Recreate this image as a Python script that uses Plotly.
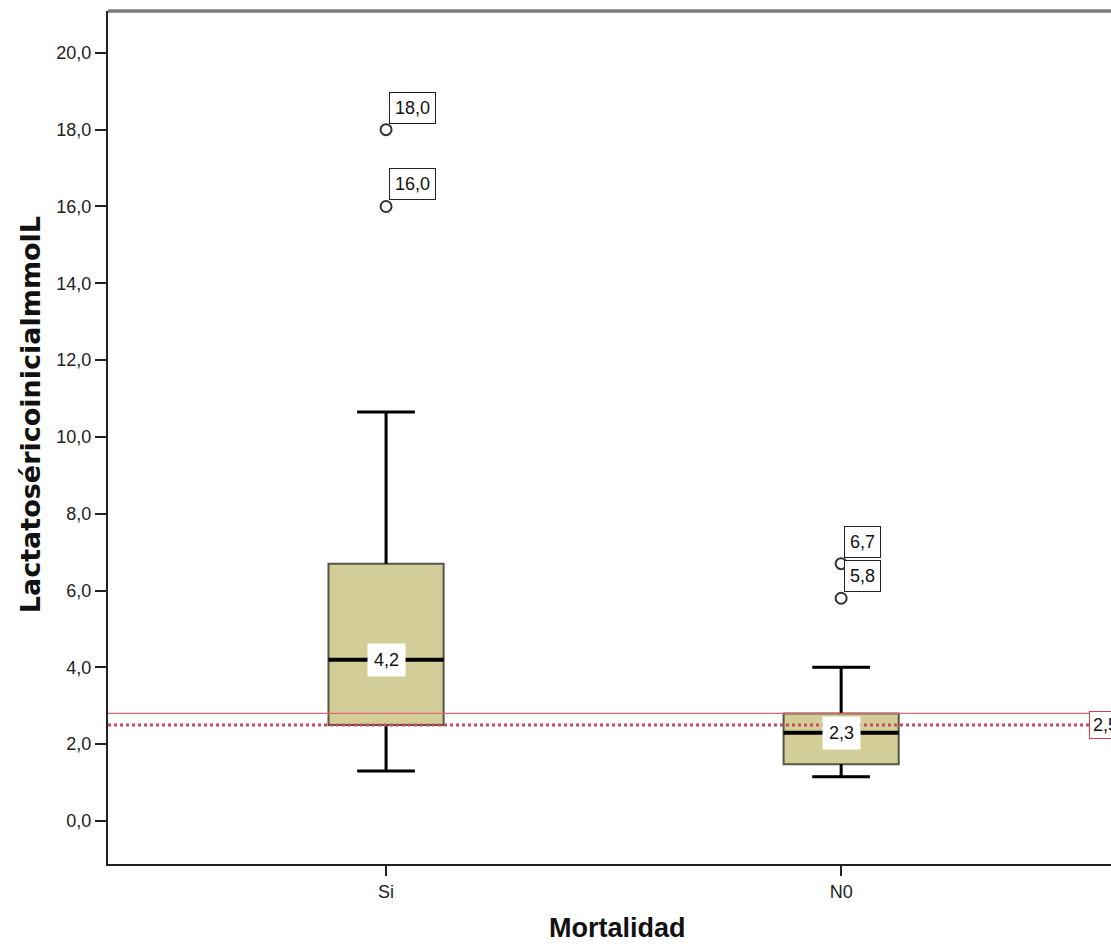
import plotly.graph_objects as go

# ---- data ----
categories = ["Si", "N0"]
q1 = [2.5, 1.48]
median = [4.2, 2.3]
q3 = [6.7, 2.8]
lower_whisker = [1.3, 1.15]
upper_whisker = [10.65, 4.0]
outlier_cat = [0, 0, 1, 1]
outlier_val = [18.0, 16.0, 6.7, 5.8]
ref_line_dotted = 2.5
ref_line_solid = 2.8
y_ticks = [0, 2, 4, 6, 8, 10, 12, 14, 16, 18, 20]

# ---- style ----
BOX_FILL = "#D3CE97"
BOX_EDGE = "#55554a"
BOX_W = 0.253
CAP_RATIO = 0.5
FONT = "Liberation Sans, Arial, sans-serif"


def fmt(v):
    return f"{v:.1f}".replace(".", ",")


pos = list(range(len(categories)))

fig = go.Figure()

fig.add_trace(go.Box(
    x=pos, q1=q1, median=median, q3=q3,
    lowerfence=lower_whisker, upperfence=upper_whisker,
    width=BOX_W, whiskerwidth=CAP_RATIO,
    fillcolor=BOX_FILL, line=dict(color=BOX_EDGE, width=2),
    boxpoints=False, hoverinfo="skip", showlegend=False,
))

# thick whiskers, caps and medians
wx, wy = [], []
for i in pos:
    half_cap = BOX_W * CAP_RATIO / 2
    wx += [i, i, None, i, i, None,
           i - half_cap, i + half_cap, None, i - half_cap, i + half_cap, None]
    wy += [lower_whisker[i], q1[i], None, q3[i], upper_whisker[i], None,
           lower_whisker[i], lower_whisker[i], None, upper_whisker[i], upper_whisker[i], None]
fig.add_trace(go.Scatter(x=wx, y=wy, mode="lines", line=dict(color="black", width=3),
                         hoverinfo="skip", showlegend=False))
mx, my = [], []
for i in pos:
    half_box = BOX_W / 2
    mx += [i - half_box, i + half_box, None]
    my += [median[i], median[i], None]
fig.add_trace(go.Scatter(x=mx, y=my, mode="lines", line=dict(color="black", width=4),
                         hoverinfo="skip", showlegend=False))

# outliers
fig.add_trace(go.Scatter(
    x=outlier_cat, y=outlier_val, mode="markers",
    marker=dict(symbol="circle-open", size=11, color="#333333", line=dict(width=2)),
    hoverinfo="skip", showlegend=False,
))

annotations = []
for c, v in zip(outlier_cat, outlier_val):
    annotations.append(dict(
        x=c, y=v, xref="x", yref="y", text=fmt(v), showarrow=False,
        xanchor="left", yanchor="bottom", xshift=3, yshift=6,
        font=dict(family=FONT, size=18, color="#111"),
        bgcolor="white", bordercolor="#222", borderwidth=1, borderpad=5,
    ))
for i in pos:
    annotations.append(dict(
        x=i, y=median[i], xref="x", yref="y", text=fmt(median[i]), showarrow=False,
        xanchor="center", yanchor="middle",
        font=dict(family=FONT, size=18, color="#111"),
        bgcolor="white", borderpad=6,
    ))
annotations.append(dict(
    x=1, y=ref_line_dotted, xref="paper", yref="y", text=fmt(ref_line_dotted), showarrow=False,
    xanchor="left", yanchor="middle", xshift=-22,
    font=dict(family=FONT, size=18, color="#111"),
    bgcolor="white", bordercolor="#d04050", borderwidth=1, borderpad=3,
))
# axis titles
annotations.append(dict(
    x=0.508, y=-0.075, xref="paper", yref="paper", text="<b>Mortalidad</b>", showarrow=False,
    xanchor="center", yanchor="middle",
    font=dict(family=FONT, size=27, color="#111"),
))
annotations.append(dict(
    x=-0.077, y=0.527, xref="paper", yref="paper", text="<b>LactatoséricoinicialmmolL</b>",
    showarrow=False, textangle=-90, xanchor="center", yanchor="middle",
    font=dict(family="DejaVu Sans", size=27, color="#111"),
))

shapes = [
    dict(type="line", xref="paper", x0=0, x1=1, yref="y", y0=ref_line_solid, y1=ref_line_solid,
         line=dict(color="#dc6b6b", width=1.2), layer="above"),
    dict(type="line", xref="paper", x0=0, x1=1, yref="y", y0=ref_line_dotted, y1=ref_line_dotted,
         line=dict(color="#cc4a5a", width=3, dash="dot"), layer="above"),
    dict(type="line", xref="paper", x0=0, x1=1, yref="paper", y0=1, y1=1,
         line=dict(color="#7a7a7a", width=3.5), layer="above"),
]

fig.update_layout(
    width=1111, height=950,
    margin=dict(l=108, r=0, t=11, b=86),
    paper_bgcolor="white", plot_bgcolor="white",
    separators=",.",
    showlegend=False,
    annotations=annotations,
    shapes=shapes,
    xaxis=dict(
        range=[-0.611, 1.593], tickvals=pos, ticktext=categories,
        showgrid=False, zeroline=False,
        showline=True, linecolor="#222", linewidth=2,
        ticks="outside", ticklen=10, tickwidth=2, tickcolor="#222",
        tickfont=dict(family=FONT, size=18, color="#222"),
    ),
    yaxis=dict(
        range=[-1.12, 21.09], tickvals=y_ticks, tickformat=".1f",
        showgrid=False, zeroline=False,
        showline=True, linecolor="#222", linewidth=2,
        ticks="outside", ticklen=11, tickwidth=2, tickcolor="#222",
        tickfont=dict(family=FONT, size=18, color="#222"),
    ),
)

fig.write_html(
    "out.html",
    config={"displayModeBar": False},
    post_script="document.body.style.margin='0';document.body.style.overflow='hidden';",
)
